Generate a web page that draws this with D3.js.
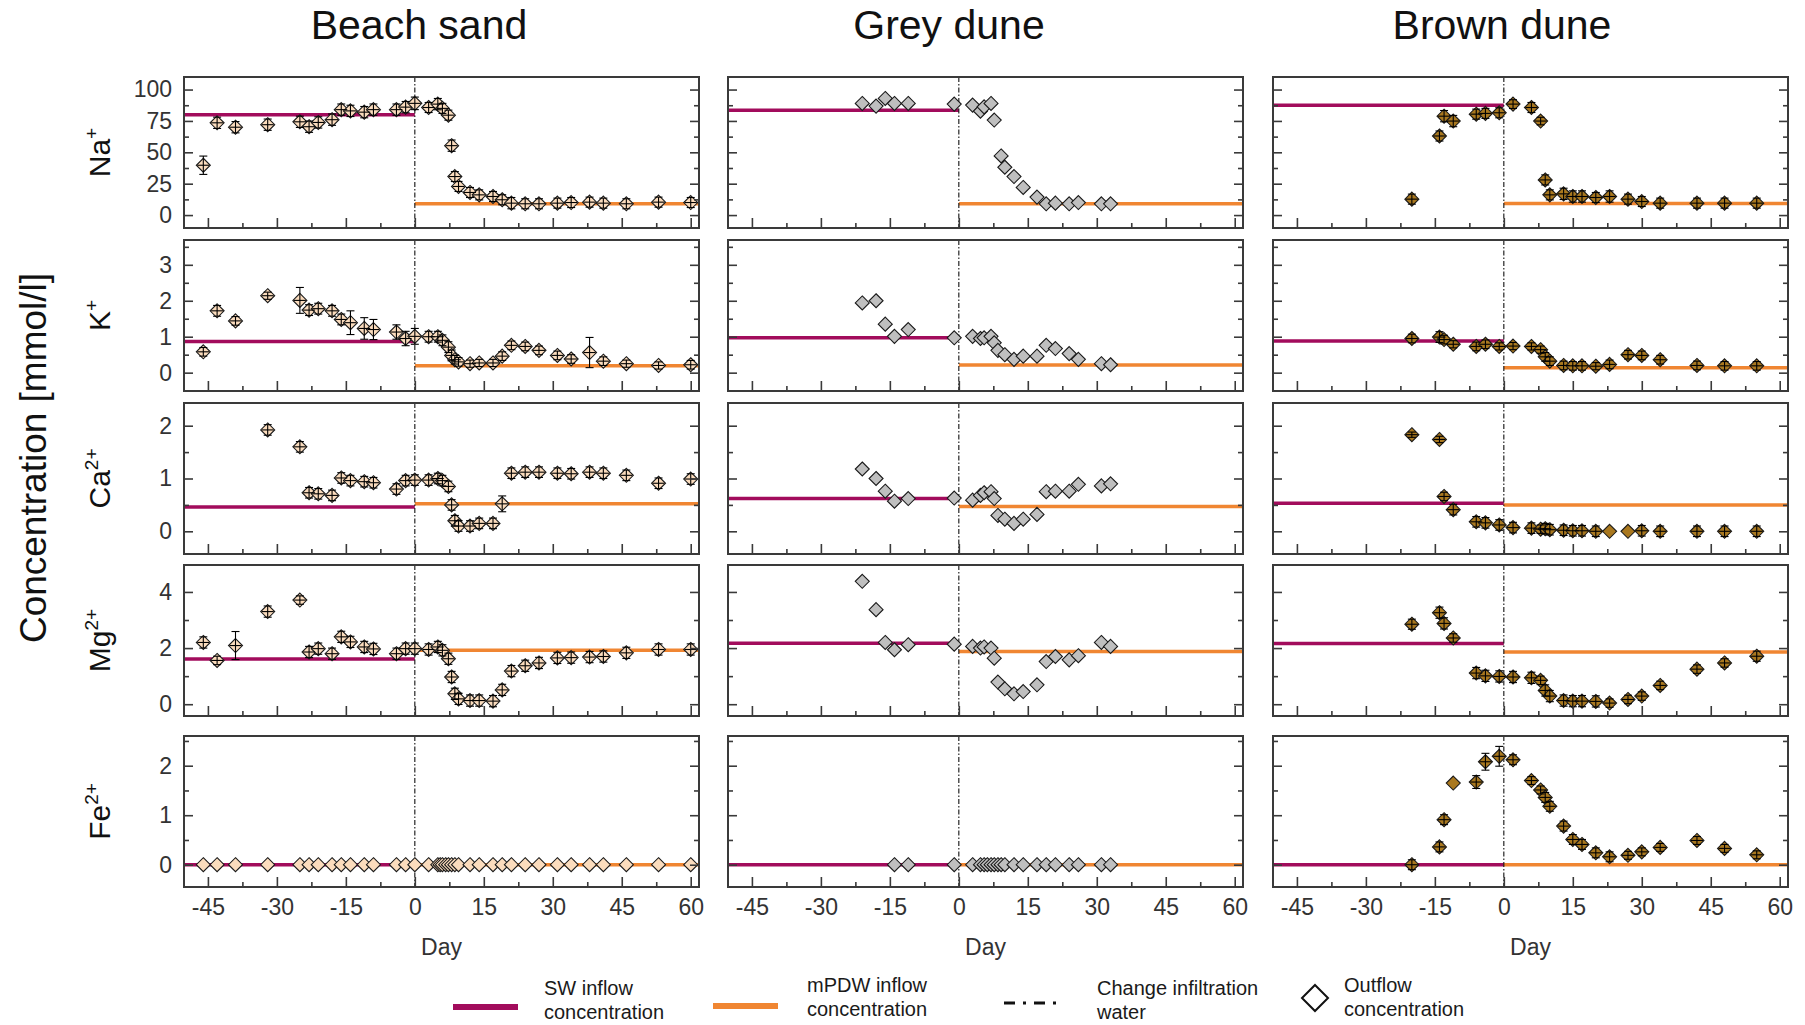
<!DOCTYPE html>
<html>
<head>
<meta charset="utf-8">
<script src="https://cdn.jsdelivr.net/npm/d3@7"></script>
<style>
  html, body { margin: 0; padding: 0; background: #fff; }
  svg { display: block; font-family: "Liberation Sans", Arial, Helvetica, sans-serif; }
</style>
</head>
<body>
<svg id="chart" width="1805" height="1025"></svg>
<script>
// ---------------- data ----------------
const columnNames = ["Beach sand", "Grey dune", "Brown dune"];
const ionNames = ["Na", "K", "Ca", "Mg", "Fe"];
const ionCharges = ["+", "+", "2+", "2+", "2+"];

const dayTicks = [-45, -30, -15, 0, 15, 30, 45, 60];
const dayMinorTicks = [-37.5, -22.5, -7.5, 7.5, 22.5, 37.5, 52.5];
const dayDomain = [-50.2, 61.8];

const naTicks = [0, 25, 50, 75, 100];
const naMinorTicks = [12.5, 37.5, 62.5, 87.5];
const kTicks = [0, 1, 2, 3];
const kMinorTicks = [0.5, 1.5, 2.5, 3.5];
const caTicks = [0, 1, 2];
const caMinorTicks = [0.5, 1.5];
const mgTicks = [0, 2, 4];
const mgMinorTicks = [1, 3];
const feTicks = [0, 1, 2];
const feMinorTicks = [0.5, 1.5, 2.5];

const naDomain = [-10.3, 110];
const kDomain = [-0.51, 3.69];
const caDomain = [-0.43, 2.43];
const mgDomain = [-0.42, 4.96];
const feDomain = [-0.45, 2.6];

// inflow concentrations (Na, K, Ca, Mg, Fe) in mmol/l
const beachSW  = [80, 0.87, 0.46, 1.61, 0];
const beachPDW = [9, 0.19, 0.52, 1.92, 0];
const greySW   = [83.6, 0.97, 0.62, 2.17, 0];
const greyPDW  = [9, 0.21, 0.47, 1.88, 0];
const brownSW  = [87.5, 0.88, 0.53, 2.16, 0];
const brownPDW = [9.3, 0.14, 0.5, 1.86, 0];

// Beach sand outflow
const beachDays = [-46, -43, -39, -32, -25, -23, -21, -18, -16, -14, -11, -9, -4, -2, 0, 3, 5, 5.5, 6, 6.7, 7.3, 8, 8.7, 9.5, 12, 14, 17, 19, 21, 24, 27, 31, 34, 38, 41, 46, 53, 60];
const beachNa = [39.7, 73.5, 70, 72, 74.3, 70.4, 73.8, 76, 84, 83, 82, 84, 84, 86, 89, 85.7, 88.4, null, 85, null, 79.6, 55.3, 30.7, 22.8, 18, 16.1, 14.8, 12.2, 9.5, 9, 9, 9.5, 10, 10.3, 9.5, 9, 10.3, 10];
const beachNaErr = [7.3, 4.5, 4.5, 4.5, 4.5, 4.5, 4.5, 4.5, 4.5, 4.5, 4.5, 4.5, 4.5, 4.5, 5, 4, 4.5, null, 4, null, 4, 4.5, 4, 4, 4, 4, 4, 4, 4.5, 4, 4, 4, 4, 4, 4, 4, 4, 4];
const beachK = [0.58, 1.72, 1.44, 2.14, 2.01, 1.74, 1.78, 1.72, 1.48, 1.39, 1.23, 1.2, 1.13, 0.95, 1.01, 1.0, 1.0, null, 0.9, null, 0.71, 0.48, 0.36, 0.3, 0.25, 0.27, 0.27, 0.46, 0.76, 0.73, 0.62, 0.48, 0.38, 0.56, 0.32, 0.25, 0.2, 0.22];
const beachKErr = [0.12, 0.15, 0.12, 0.1, 0.36, 0.15, 0.15, 0.15, 0.15, 0.33, 0.3, 0.28, 0.2, 0.2, 0.22, 0.15, 0.15, null, 0.15, null, 0.15, 0.15, 0.12, 0.12, 0.1, 0.1, 0.1, 0.12, 0.12, 0.12, 0.12, 0.12, 0.12, 0.42, 0.12, 0.1, 0.1, 0.12];
const beachCa = [null, null, null, 1.92, 1.6, 0.73, 0.71, 0.68, 1.01, 0.96, 0.94, 0.92, 0.8, 0.96, 0.97, 0.97, 1.0, null, 0.96, null, 0.85, 0.5, 0.2, 0.1, 0.1, 0.15, 0.15, 0.52, 1.1, 1.12, 1.12, 1.1, 1.09, 1.12, 1.1, 1.06, 0.91, 0.99];
const beachCaErr = [null, null, null, 0.1, 0.1, 0.1, 0.1, 0.1, 0.1, 0.1, 0.1, 0.1, 0.1, 0.1, 0.1, 0.1, 0.1, null, 0.1, null, 0.1, 0.1, 0.1, 0.1, 0.1, 0.1, 0.1, 0.15, 0.1, 0.1, 0.1, 0.1, 0.1, 0.1, 0.1, 0.1, 0.1, 0.1];
const beachMg = [2.2, 1.56, 2.09, 3.3, 3.71, 1.86, 1.98, 1.8, 2.4, 2.22, 2.04, 1.97, 1.8, 1.98, 1.98, 1.95, 2.04, null, 1.92, null, 1.62, 0.97, 0.37, 0.19, 0.13, 0.13, 0.11, 0.51, 1.18, 1.37, 1.47, 1.65, 1.66, 1.68, 1.7, 1.83, 1.95, 1.95];
const beachMgErr = [0.2, 0.15, 0.5, 0.2, 0.15, 0.2, 0.2, 0.2, 0.2, 0.2, 0.2, 0.2, 0.2, 0.2, 0.2, 0.2, 0.2, null, 0.2, null, 0.2, 0.2, 0.2, 0.2, 0.2, 0.2, 0.2, 0.2, 0.2, 0.2, 0.2, 0.2, 0.2, 0.2, 0.2, 0.2, 0.2, 0.2];
const beachFe = [0, 0, 0, 0, 0, 0, 0, 0, 0, 0, 0, 0, 0, 0, 0, 0, 0, 0, 0, 0, 0, 0, 0, 0, 0, 0, 0, 0, 0, 0, 0, 0, 0, 0, 0, 0, 0, 0];

// Grey dune outflow
const greyDays = [-21, -18, -16, -14, -11, -1, 3, 4.7, 5.5, 6.2, 7, 7.7, 8.5, 9.2, 10, 12, 14, 17, 19, 21, 24, 26, 31, 33];
const greyNa = [88.9, 86.8, 92.9, 88.9, 88.9, 88.4, 87.6, 82.8, 86.2, null, 88.9, 75.7, null, 47.1, 38.1, 30.7, 22, 14.3, 9, 9.5, 9, 10, 9, 9];
const greyK  = [1.94, 2.0, 1.35, 1.01, 1.2, 0.97, 1.01, 0.95, 0.97, null, 1.01, 0.83, 0.62, null, 0.5, 0.37, 0.46, 0.46, 0.76, 0.67, 0.53, 0.37, 0.25, 0.22];
const greyCa = [1.18, 1.0, 0.76, 0.57, 0.62, 0.63, 0.59, 0.68, 0.73, null, 0.75, 0.62, 0.3, null, 0.23, 0.15, 0.23, 0.32, 0.75, 0.76, 0.76, 0.89, 0.86, 0.9];
const greyMg = [4.38, 3.37, 2.2, 1.94, 2.12, 2.14, 2.06, 2.0, 2.04, null, 2.0, 1.64, 0.79, null, 0.55, 0.37, 0.45, 0.69, 1.52, 1.7, 1.58, 1.73, 2.2, 2.06];
const greyFe = [null, null, null, 0, 0, 0, 0, 0, 0, 0, 0, 0, 0, 0, 0, 0, 0, 0, 0, 0, 0, 0, 0, 0];

// Brown dune outflow
const brownDays = [-20, -14, -13, -11, -6, -4, -1, 2, 6, 8, 9, 10, 13, 15, 17, 20, 23, 27, 30, 34, 42, 48, 55];
const brownNa = [12.7, 63, 78.8, 74.9, 80.4, 81, 81.5, 88.4, 85.7, 74.9, 28, 16.1, 16.9, 14.8, 14.8, 14, 14.8, 12.7, 10.8, 9.5, 9.5, 9.5, 9.5];
const brownNaErr = [4, 4, 4.5, 4.5, 4, 4, 4, 3.5, 4, 3, 4, 4, 4.5, 4.5, 4.5, 4, 4.5, 4, 4, 4, 4, 4, 4];
const brownK = [0.95, 0.99, 0.92, 0.79, 0.73, 0.79, 0.73, 0.74, 0.73, 0.64, 0.44, 0.32, 0.2, 0.19, 0.19, 0.18, 0.23, 0.5, 0.48, 0.36, 0.2, 0.19, 0.19];
const brownKErr = [0.12, 0.15, 0.12, 0.1, 0.12, 0.12, 0.1, 0.1, 0.1, 0.1, 0.12, 0.12, 0.12, 0.12, 0.12, 0.1, 0.12, 0.12, 0.12, 0.12, 0.12, 0.12, 0.12];
const brownCa = [1.83, 1.74, 0.66, 0.41, 0.18, 0.16, 0.12, 0.07, 0.06, 0.04, 0.05, 0.03, 0.02, 0.01, 0.01, 0, 0, 0, 0.01, 0, 0, 0, 0];
const brownCaErr = [0.05, 0.06, 0.08, 0.1, 0.1, 0.1, 0.1, 0.1, 0.1, 0.08, 0.1, 0.1, 0.1, 0.1, 0.1, 0.1, null, null, 0.1, 0.1, 0.1, 0.1, 0.1];
const brownMg = [2.85, 3.26, 2.88, 2.36, 1.11, 1.01, 0.99, 0.97, 0.94, 0.85, 0.49, 0.29, 0.13, 0.11, 0.11, 0.1, 0.04, 0.17, 0.29, 0.67, 1.25, 1.47, 1.71];
const brownMgErr = [0.18, 0.2, 0.2, 0.15, 0.2, 0.2, 0.2, 0.2, 0.2, 0.15, 0.2, 0.2, 0.2, 0.2, 0.2, 0.2, 0.15, 0.15, 0.15, 0.15, 0.15, 0.15, 0.18];
const brownFe = [0, 0.36, 0.91, 1.65, 1.67, 2.08, 2.19, 2.12, 1.7, 1.51, 1.36, 1.18, 0.78, 0.51, 0.41, 0.24, 0.16, 0.19, 0.26, 0.35, 0.49, 0.33, 0.2];
const brownFeErr = [0.1, 0.1, 0.1, null, 0.13, 0.17, 0.2, 0.1, 0.08, 0.08, 0.1, 0.1, 0.1, 0.1, 0.1, 0.1, 0.1, 0.08, 0.08, 0.08, 0.08, 0.08, 0.08];

// ---------------- layout & style ----------------
const COL_SW = "#a20c5c";
const COL_PDW = "#f08632";
const COL_FRAME = "#3a3a3a";
const COL_TEXT = "#333";
const fills = ["#fbdcbd", "#bfbfbf", "#a9781f"];

const panelX = [184, 728, 1273];
const panelY = [77, 240, 403, 565, 736];
const panelW = 515, panelH = 151;
const titleX = [419, 949, 1502];
const markerR = 7;

const ionScales = [
  { domain: naDomain, major: naTicks, minor: naMinorTicks },
  { domain: kDomain,  major: kTicks,  minor: kMinorTicks },
  { domain: caDomain, major: caTicks, minor: caMinorTicks },
  { domain: mgDomain, major: mgTicks, minor: mgMinorTicks },
  { domain: feDomain, major: feTicks, minor: feMinorTicks }
];

const columns = [
  { days: beachDays, values: [beachNa, beachK, beachCa, beachMg, beachFe],
    errors: [beachNaErr, beachKErr, beachCaErr, beachMgErr, null],
    sw: beachSW, pdw: beachPDW },
  { days: greyDays, values: [greyNa, greyK, greyCa, greyMg, greyFe],
    errors: [null, null, null, null, null],
    sw: greySW, pdw: greyPDW },
  { days: brownDays, values: [brownNa, brownK, brownCa, brownMg, brownFe],
    errors: [brownNaErr, brownKErr, brownCaErr, brownMgErr, brownFeErr],
    sw: brownSW, pdw: brownPDW }
];

const svg = d3.select("#chart");
const x = d3.scaleLinear().domain(dayDomain).range([0, panelW]);
const diamond = r => `M0,${-r}L${r},0L0,${r}L${-r},0Z`;
const fmt = d => String(d);

columns.forEach((col, c) => {
  ionNames.forEach((ion, r) => {
    const sc = ionScales[r];
    const y = d3.scaleLinear().domain(sc.domain).range([panelH, 0]);
    const g = svg.append("g").attr("transform", `translate(${panelX[c]},${panelY[r]})`);

    // inflow concentration lines
    const line = d3.line().x(d => x(d[0])).y(d => y(d[1]));
    g.append("path")
      .attr("d", line([[dayDomain[0], col.sw[r]], [0, col.sw[r]]]))
      .attr("stroke", COL_SW).attr("stroke-width", 3.5).attr("fill", "none");
    g.append("path")
      .attr("d", line([[0, col.pdw[r]], [dayDomain[1], col.pdw[r]]]))
      .attr("stroke", COL_PDW).attr("stroke-width", 3.5).attr("fill", "none");

    // change of infiltration water
    g.append("line")
      .attr("x1", x(0)).attr("x2", x(0)).attr("y1", 0).attr("y2", panelH)
      .attr("stroke", "#111").attr("stroke-width", 1.1)
      .attr("stroke-dasharray", "5,2,1.5,2");

    // outflow points
    const pts = col.days.map((d, i) => ({
      day: d, v: col.values[r][i],
      e: col.errors[r] ? col.errors[r][i] : null
    })).filter(p => p.v !== null);

    g.selectAll("path.pt").data(pts).join("path")
      .attr("class", "pt")
      .attr("d", diamond(markerR))
      .attr("transform", p => `translate(${x(p.day)},${y(p.v)})`)
      .attr("fill", fills[c]).attr("stroke", "#1a1a1a").attr("stroke-width", 1.1);

    // error bars drawn over the symbols
    const eb = g.selectAll("g.err").data(pts.filter(p => p.e !== null && p.e !== undefined)).join("g")
      .attr("class", "err")
      .attr("stroke", "#000").attr("stroke-width", 1.1);
    eb.append("line")
      .attr("x1", p => x(p.day)).attr("x2", p => x(p.day))
      .attr("y1", p => y(p.v - p.e)).attr("y2", p => y(p.v + p.e));
    eb.append("line")
      .attr("x1", p => x(p.day) - 4).attr("x2", p => x(p.day) + 4)
      .attr("y1", p => y(p.v + p.e)).attr("y2", p => y(p.v + p.e));
    eb.append("line")
      .attr("x1", p => x(p.day) - 4).attr("x2", p => x(p.day) + 4)
      .attr("y1", p => y(p.v - p.e)).attr("y2", p => y(p.v - p.e));
    eb.append("line")
      .attr("x1", p => x(p.day) - 6).attr("x2", p => x(p.day) + 6)
      .attr("y1", p => y(p.v)).attr("y2", p => y(p.v));

    // axes: ticks drawn inward
    const styleAxis = sel => {
      sel.select(".domain").remove();
      sel.selectAll(".tick line").attr("stroke", COL_FRAME).attr("stroke-width", 1.6);
      sel.selectAll(".tick text").attr("fill", COL_TEXT).style("font-size", "23px")
        .style("font-family", "'Liberation Sans', Arial, sans-serif");
    };
    const left = d3.axisLeft(y).tickValues(sc.major).tickSize(-9).tickPadding(12)
      .tickFormat(c === 0 ? fmt : () => "");
    g.append("g").call(left).call(styleAxis);
    g.append("g").call(d3.axisLeft(y).tickValues(sc.minor).tickSize(-5).tickFormat(() => "")).call(styleAxis);
    g.append("g").attr("transform", `translate(${panelW},0)`)
      .call(d3.axisRight(y).tickValues(sc.major).tickSize(-9).tickFormat(() => "")).call(styleAxis);
    g.append("g").attr("transform", `translate(${panelW},0)`)
      .call(d3.axisRight(y).tickValues(sc.minor).tickSize(-5).tickFormat(() => "")).call(styleAxis);
    g.append("g").attr("transform", `translate(0,${panelH})`)
      .call(d3.axisBottom(x).tickValues(dayTicks).tickSize(-10).tickPadding(12)
        .tickFormat(r === ionNames.length - 1 ? fmt : () => ""))
      .call(styleAxis);
    g.append("g").attr("transform", `translate(0,${panelH})`)
      .call(d3.axisBottom(x).tickValues(dayMinorTicks).tickSize(-5).tickFormat(() => ""))
      .call(styleAxis);

    // frame
    g.append("rect").attr("width", panelW).attr("height", panelH)
      .attr("fill", "none").attr("stroke", COL_FRAME).attr("stroke-width", 2);

    // ion label on the first column
    if (c === 0) {
      const t = svg.append("text")
        .attr("transform", `translate(110,${panelY[r] + panelH / 2}) rotate(-90)`)
        .attr("text-anchor", "middle").attr("fill", "#111").style("font-size", "30px");
      t.append("tspan").text(ion);
      t.append("tspan").attr("dy", -12).style("font-size", "19px").text(ionCharges[r]);
    }
  });

  // column title and x-axis title
  svg.append("text").attr("x", titleX[c]).attr("y", 39).attr("text-anchor", "middle")
    .attr("fill", "#111").style("font-size", "41px").text(columnNames[c]);
  svg.append("text").attr("x", panelX[c] + panelW / 2).attr("y", 955).attr("text-anchor", "middle")
    .attr("fill", COL_TEXT).style("font-size", "23px").text("Day");
});

// y-axis title
svg.append("text")
  .attr("transform", "translate(46,458) rotate(-90)")
  .attr("text-anchor", "middle").attr("fill", "#111").style("font-size", "37px")
  .text("Concentration [mmol/l]");

// ---------------- legend ----------------
const lg = svg.append("g").style("font-size", "20px").attr("fill", "#1a1a1a");
lg.append("line").attr("x1", 453).attr("x2", 518).attr("y1", 1007).attr("y2", 1007)
  .attr("stroke", COL_SW).attr("stroke-width", 6);
lg.append("text").attr("x", 544).attr("y", 995).text("SW inflow");
lg.append("text").attr("x", 544).attr("y", 1019).text("concentration");

lg.append("line").attr("x1", 713).attr("x2", 778).attr("y1", 1006).attr("y2", 1006)
  .attr("stroke", COL_PDW).attr("stroke-width", 6);
lg.append("text").attr("x", 807).attr("y", 992).text("mPDW inflow");
lg.append("text").attr("x", 807).attr("y", 1016).text("concentration");

lg.append("line").attr("x1", 1004).attr("x2", 1064).attr("y1", 1003).attr("y2", 1003)
  .attr("stroke", "#111").attr("stroke-width", 3).attr("stroke-dasharray", "11,8,3,8");
lg.append("text").attr("x", 1097).attr("y", 995).text("Change infiltration");
lg.append("text").attr("x", 1097).attr("y", 1019).text("water");

lg.append("path").attr("d", diamond(13)).attr("transform", "translate(1315,998)")
  .attr("fill", "#fff").attr("stroke", "#111").attr("stroke-width", 2);
lg.append("text").attr("x", 1344).attr("y", 992).text("Outflow");
lg.append("text").attr("x", 1344).attr("y", 1016).text("concentration");
</script>
</body>
</html>
